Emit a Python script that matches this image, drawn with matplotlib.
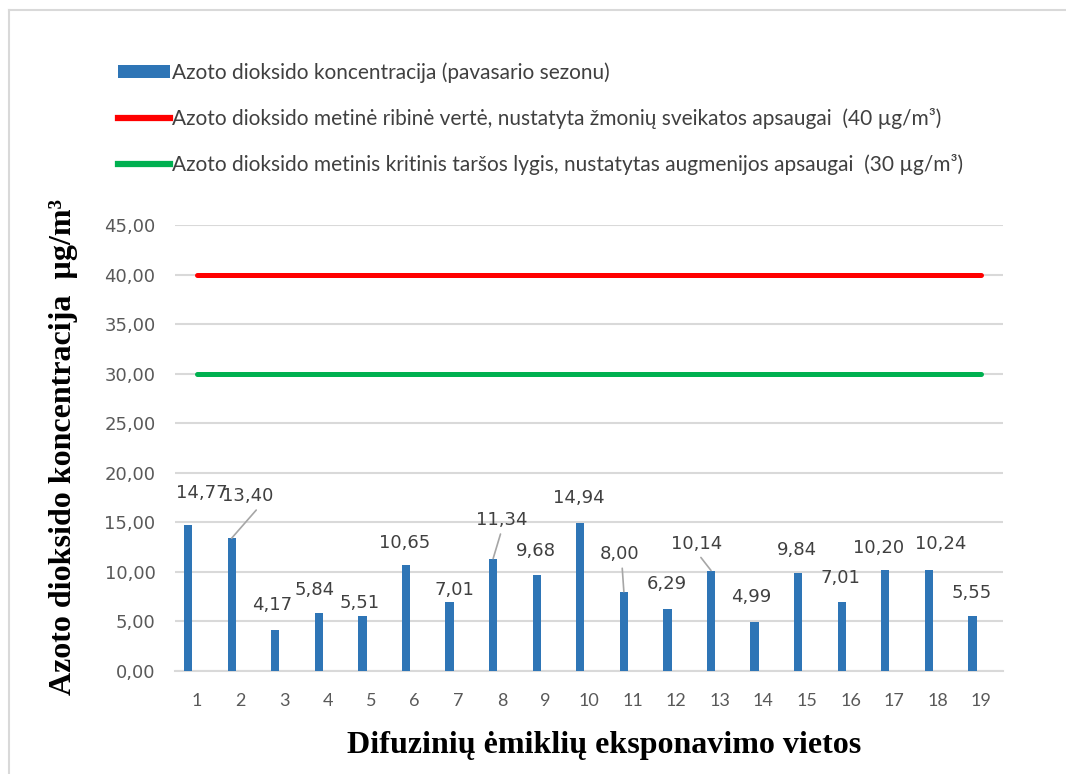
import matplotlib.pyplot as plt
from matplotlib.lines import Line2D
from matplotlib.patches import Patch
import numpy as np

sites = [str(i) for i in range(1, 20)]
no2_spring = [14.77, 13.40, 4.17, 5.84, 5.51, 10.65, 7.01, 11.34, 9.68, 14.94,
              8.00, 6.29, 10.14, 4.99, 9.84, 7.01, 10.20, 10.24, 5.55]
limit_health = 40.0
limit_vegetation = 30.0
y_ticks = [0, 5, 10, 15, 20, 25, 30, 35, 40, 45]

legend_labels = [
    "Azoto dioksido koncentracija (pavasario sezonu)",
    "Azoto dioksido metinė ribinė vertė, nustatyta žmonių sveikatos apsaugai  (40 µg/m³)",
    "Azoto dioksido metinis kritinis taršos lygis, nustatytas augmenijos apsaugai  (30 µg/m³)",
]

# label offsets in pixels (dx, dy) from bar top, and which get a leader line
label_offsets = [(14, 32), (16, 42), (-3, 25), (-4, 23), (-3, 13), (-1, 22), (5, 12),
                 (9, 39), (-1, 24), (-1, 25), (-4, 38), (-1, 25), (-14, 27), (-3, 25),
                 (-1, 23), (-1, 24), (-7, 22), (12, 26), (-1, 23)]
leaders = {1: 0.75, 7: 0.5, 10: 0.55, 12: 0.5}

bar_color = "#2E75B6"
text_gray = "#404040"
grid_gray = "#D9D9D9"

fig = plt.figure(figsize=(10.66, 7.74), dpi=100)
ax = fig.add_axes([175 / 1066, 1 - 671 / 774, 828 / 1066, 446 / 774])

x = np.arange(1, len(sites) + 1)
ax.bar(x - 0.2, no2_spring, width=0.19, color=bar_color, zorder=3)
ax.plot([x[0], x[-1]], [limit_health] * 2, color="#FF0000", lw=3.6,
        solid_capstyle="round", zorder=4)
ax.plot([x[0], x[-1]], [limit_vegetation] * 2, color="#00B050", lw=3.6,
        solid_capstyle="round", zorder=4)

for i, (xi, v) in enumerate(zip(x, no2_spring)):
    dx, dy = label_offsets[i]
    txt = f"{v:.2f}".replace(".", ",")
    kw = {}
    if i in leaders:
        kw["arrowprops"] = dict(arrowstyle="-", color="#A6A6A6", lw=1.2,
                                shrinkA=2, shrinkB=0, relpos=(leaders[i], 0))
    ax.annotate(txt, xy=(xi - 0.2, v), xytext=(dx, dy), textcoords="offset pixels",
                ha="center", va="center", fontsize=13, color=text_gray,
                family="DejaVu Sans", zorder=5, **kw)

ax.set_xlim(0.5, len(sites) + 0.5)
ax.set_ylim(0, 45)
ax.set_xticks(x)
ax.set_xticklabels(sites, family="Lato", fontsize=13, color="#595959")
ax.set_yticks(y_ticks)
ax.set_yticklabels([f"{t:.2f}".replace(".", ",") for t in y_ticks],
                   family="DejaVu Sans", fontsize=13, color="#595959")
ax.tick_params(axis="x", length=0, pad=16)
ax.tick_params(axis="y", length=0, pad=14)
ax.grid(axis="y", color=grid_gray, lw=1.5, zorder=0)
for side in ["top", "right", "left"]:
    ax.spines[side].set_visible(False)
ax.spines["bottom"].set_color(grid_gray)
ax.spines["bottom"].set_linewidth(1.5)

fig.text(604 / 1066, 1 - 745 / 774, "Difuzinių ėmiklių eksponavimo vietos",
         ha="center", va="center", family="Liberation Serif",
         fontweight="bold", fontsize=23)
fig.text(64 / 1066, 1 - 447 / 774, "Azoto dioksido koncentracija  µg/m³",
         rotation=90, ha="center", va="center", family="Liberation Serif",
         fontweight="bold", fontsize=23)

handles = [Patch(facecolor=bar_color),
           Line2D([], [], color="#FF0000", lw=4.5),
           Line2D([], [], color="#00B050", lw=4.5)]
fig.legend(handles, legend_labels, loc="upper left",
           bbox_to_anchor=(118 / 1066, 1 - 62 / 774), frameon=False,
           borderaxespad=0, borderpad=0,
           prop={"family": "Lato", "size": 15}, labelcolor="#404040",
           handlelength=2.5, handleheight=0.6, handletextpad=0.1, labelspacing=1.2)

# outer chart frame
fig.add_artist(Line2D([9 / 1066, 1], [1 - 10 / 774] * 2, color=grid_gray, lw=1.5))
fig.add_artist(Line2D([9 / 1066] * 2, [0, 1 - 10 / 774], color=grid_gray, lw=1.5))

fig.savefig("out.png", dpi=100)
